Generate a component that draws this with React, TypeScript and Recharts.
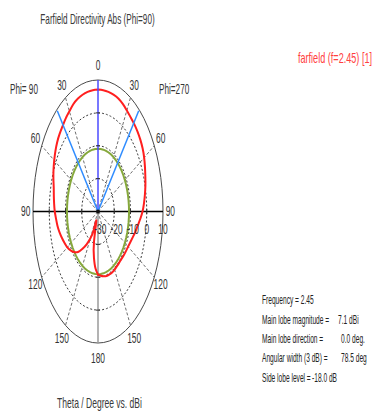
import React from 'react';
import { ComposedChart, Line, Scatter, XAxis, YAxis } from 'recharts';

// Farfield directivity cut, theta from 0 (top) to 180 (bottom), every 5 deg
const thetaDeg = [
  0, 5, 10, 15, 20, 25, 30, 35, 40, 45, 50, 55, 60, 65, 70, 75, 80, 85, 90,
  95, 100, 105, 110, 115, 120, 125, 130, 135, 140, 145, 150, 155, 160, 165, 170, 175, 180,
];
// left half of the plot (Phi = 90)
const phi90Dbi = [
  7.1, 7.05, 6.95, 6.75, 6.5, 6.0, 5.2, 4.6, 3.9, 3.4, 2.8, 2.0, 1.1, 0.2, -0.8, -1.8, -2.4, -2.9, -3.4,
  -4.1, -4.7, -5.5, -6.4, -7.3, -8.2, -9.4, -10.8, -12.6, -15.2, -17.8, -20.5, -23.8, -27.0, -20.5, -15.7, -12.6, -10.8,
];
// right half of the plot (Phi = 270)
const phi270Dbi = [
  7.1, 7.05, 6.95, 6.8, 6.6, 6.1, 5.5, 5.0, 4.7, 4.4, 4.0, 3.5, 2.8, 1.9, 1.0, 0.2, -0.7, -1.6, -2.6,
  -3.9, -5.2, -6.2, -7.2, -8.0, -8.6, -9.0, -9.3, -9.6, -9.7, -9.7, -9.6, -9.5, -9.6, -9.7, -10.0, -10.4, -10.8,
];

const frequency = 2.45;
const mainLobeDbi = 7.1;
const mainLobeDirDeg = 0.0;
const angularWidthDeg = 78.5;
const sideLobeLevelDb = -18.0;

const ringDb = [-30, -20, -10, 0, 10];
const spokeDeg = [30, 60, 120, 150];
const angleTicks = [0, 30, 60, 90, 120, 150, 180];

const W = 386;
const H = 414;
const FONT = '"Liberation Sans", Arial, sans-serif';
const R_MAX = ringDb[ringDb.length - 1] - ringDb[0];

// side: -1 for the left half, +1 for the right half
const polar = (deg: number, r: number, side = 1) => {
  const a = (deg * Math.PI) / 180;
  return { x: side * r * Math.sin(a), y: r * Math.cos(a) };
};
const rOf = (db: number) => db - ringDb[0];

const loop = (r: number) => {
  const pts = [];
  for (let t = 0; t <= 360; t += 5) pts.push(polar(t, r));
  return pts;
};

const patternPts = [
  ...thetaDeg.map((t, i) => polar(t, rOf(phi90Dbi[i]), -1)),
  ...thetaDeg.map((t, i) => polar(t, rOf(phi270Dbi[i]), 1)).reverse(),
];
const sideLobePts = loop(rOf(mainLobeDbi + sideLobeLevelDb));

const spokes = spokeDeg.flatMap((d) => [
  [{ x: 0, y: 0 }, polar(d, R_MAX, -1)],
  [{ x: 0, y: 0 }, polar(d, R_MAX, 1)],
]);

const halfWidth = angularWidthDeg / 2;
const widthLines = [
  [{ x: 0, y: 0 }, polar(mainLobeDirDeg + halfWidth, R_MAX * 0.99, -1)],
  [{ x: 0, y: 0 }, polar(mainLobeDirDeg + halfWidth, R_MAX * 0.99, 1)],
];

const angleLabelPts = angleTicks.flatMap((d) => {
  const l = { ...polar(d, 44.5, -1), label: String(d) };
  const r = { ...polar(d, 44.5, 1), label: String(d) };
  return d === 0 || d === 180 ? [l] : [l, r];
});
const dbLabelPts = ringDb.map((db) => ({
  x: rOf(db) + (db < 0 ? 1.4 : 0),
  y: -5.3,
  label: String(db),
}));
const axisTickPts = ringDb.slice(1, -1).flatMap((db) => {
  const r = rOf(db);
  return [
    { x: r, y: 0, dir: 'v' },
    { x: -r, y: 0, dir: 'v' },
    { x: 0, y: r, dir: 'h' },
    { x: 0, y: -r, dir: 'h' },
  ];
});

function Txt({ x, y, children, size = 14, anchor = 'middle', fill = '#333', sx = 0.6 }: any) {
  return (
    <text
      transform={`translate(${x} ${y}) scale(${sx} 1)`}
      textAnchor={anchor}
      dominantBaseline="central"
      fontSize={size}
      fill={fill}
      fontFamily={FONT}
    >
      {children}
    </text>
  );
}

// stats block under the legend
function Stat({ x, y, children }: any) {
  return (
    <Txt x={x} y={y} anchor="start" size={13} sx={0.51} fill="#222">
      {children}
    </Txt>
  );
}

const labelShape = (p: any) => (
  <Txt x={p.cx} y={p.cy}>
    {p.payload.label}
  </Txt>
);

const tickShape = (p: any) =>
  p.payload.dir === 'v' ? (
    <line x1={p.cx} x2={p.cx} y1={p.cy - 2.5} y2={p.cy + 2.5} stroke="#333" strokeWidth={1} />
  ) : (
    <line x1={p.cx - 2} x2={p.cx + 2} y1={p.cy} y2={p.cy} stroke="#333" strokeWidth={1} />
  );

const centreShape = (p: any) => <circle cx={p.cx} cy={p.cy} r={2} fill="#111" />;

const seg = (data: any[], stroke: string, width: number, dash?: string, type: any = 'linear') => (
  <Line
    data={data}
    dataKey="y"
    type={type}
    stroke={stroke}
    strokeWidth={width}
    strokeDasharray={dash}
    dot={false}
    activeDot={false}
    isAnimationActive={false}
  />
);

export default function App() {
  return (
    <div style={{ position: 'absolute', left: 0, top: 0, width: W, height: H, background: '#fff' }}>
      <ComposedChart
        width={W}
        height={H}
        margin={{ top: 47.125, right: 206.75, bottom: 38.125, left: 16.75 }}
      >
        <XAxis type="number" dataKey="x" domain={[-50, 50]} hide />
        <YAxis type="number" dataKey="y" domain={[-50, 50]} hide />

        {ringDb.slice(1, -1).map((db) => (
          <React.Fragment key={`ring${db}`}>{seg(loop(rOf(db)), '#3a3a3a', 1, '2 2')}</React.Fragment>
        ))}
        {seg(loop(R_MAX), '#4a4a4a', 1)}
        {spokes.map((s, i) => (
          <React.Fragment key={`spoke${i}`}>{seg(s, '#6e6e6e', 1, '3 2')}</React.Fragment>
        ))}
        {seg([{ x: -R_MAX, y: 0 }, { x: R_MAX, y: 0 }], '#000', 1.5)}
        {seg([{ x: 0, y: 0 }, { x: 0, y: -R_MAX }], '#9a9a9a', 1.5)}
        <Scatter data={axisTickPts} shape={tickShape} isAnimationActive={false} />

        {seg(sideLobePts, '#86a83c', 2)}
        {seg(patternPts, '#ff1f1f', 2, undefined, 'natural')}

        {seg([{ x: 0, y: 0 }, polar(mainLobeDirDeg, R_MAX)], '#4b4bff', 1.5)}
        {widthLines.map((s, i) => (
          <React.Fragment key={`w${i}`}>{seg(s, '#2f8cff', 1.5)}</React.Fragment>
        ))}
        <Scatter data={[{ x: 0, y: 0 }]} shape={centreShape} isAnimationActive={false} />

        <Scatter data={angleLabelPts} shape={labelShape} isAnimationActive={false} />
        <Scatter data={dbLabelPts} shape={labelShape} isAnimationActive={false} />
      </ComposedChart>

      <svg width={W} height={H} style={{ position: 'absolute', left: 0, top: 0, pointerEvents: 'none' }}>
        <Txt x={97.5} y={19} sx={0.585} fill="#3a3a3a">
          Farfield Directivity Abs (Phi=90)
        </Txt>
        <Txt x={372} y={58} anchor="end" sx={0.65} fill="#ff4040">
          farfield (f={frequency}) [1]
        </Txt>
        <Txt x={10} y={89} anchor="start" sx={0.585}>
          Phi= 90
        </Txt>
        <Txt x={159} y={89} anchor="start" sx={0.585}>
          Phi=270
        </Txt>
        <Txt x={99.5} y={403} sx={0.61} fill="#3a3a3a">
          Theta / Degree vs. dBi
        </Txt>

        <Stat x={262} y={300}>Frequency = {frequency}</Stat>
        <Stat x={262} y={320}>Main lobe magnitude =</Stat>
        <Stat x={338} y={320}>{mainLobeDbi.toFixed(1)} dBi</Stat>
        <Stat x={262} y={339}>Main lobe direction =</Stat>
        <Stat x={341} y={339}>{mainLobeDirDeg.toFixed(1)} deg.</Stat>
        <Stat x={262} y={358}>Angular width (3 dB) =</Stat>
        <Stat x={341} y={358}>{angularWidthDeg.toFixed(1)} deg</Stat>
        <Stat x={262} y={378}>Side lobe level =</Stat>
        <Stat x={312} y={378}>{sideLobeLevelDb.toFixed(1)} dB</Stat>
      </svg>
    </div>
  );
}
